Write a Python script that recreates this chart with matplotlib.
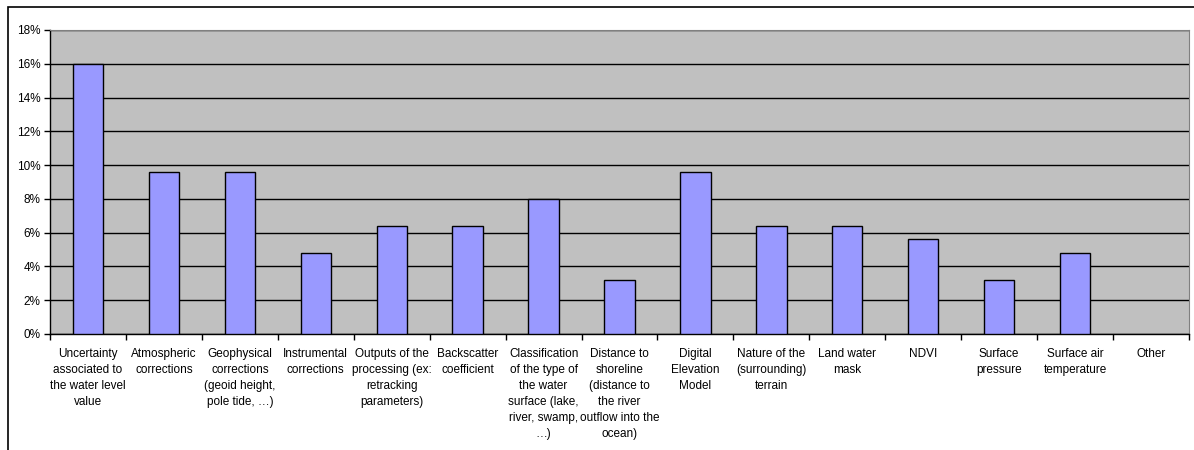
import matplotlib
matplotlib.use("Agg")
import matplotlib.pyplot as plt
from matplotlib.patches import Rectangle
import numpy as np

plt.rcParams['font.family'] = ['Liberation Sans', 'DejaVu Sans']

categories = [
    "Uncertainty\nassociated to\nthe water level\nvalue",
    "Atmospheric\ncorrections",
    "Geophysical\ncorrections\n(geoid height,\npole tide, \u2026)",
    "Instrumental\ncorrections",
    "Outputs of the\nprocessing (ex:\nretracking\nparameters)",
    "Backscatter\ncoefficient",
    "Classification\nof the type of\nthe water\nsurface (lake,\nriver, swamp,\n\u2026)",
    "Distance to\nshoreline\n(distance to\nthe river\noutflow into the\nocean)",
    "Digital\nElevation\nModel",
    "Nature of the\n(surrounding)\nterrain",
    "Land water\nmask",
    "NDVI",
    "Surface\npressure",
    "Surface air\ntemperature",
    "Other",
]
values = [16.0, 9.6, 9.6, 4.8, 6.4, 6.4, 8.0, 3.2, 9.6, 6.4, 6.4, 5.6, 3.2, 4.8, 0.0]
yticks = [0, 2, 4, 6, 8, 10, 12, 14, 16, 18]

W, H = 1194, 450
fig = plt.figure(figsize=(W / 100, H / 100), dpi=100)

# outer chart frame (left and top edges visible)
fig.patches.append(Rectangle((8 / W, -0.1), 1.2, 1 - 7 / H + 0.1, transform=fig.transFigure,
                             fill=False, edgecolor='black', linewidth=1.2))

ax = fig.add_axes([50 / W, 1 - 334 / H, (1189 - 50) / W, (334 - 30) / H])
ax.set_facecolor('#C0C0C0')

x = np.arange(len(categories))
edge_w = [1.0 if v > 0 else 0 for v in values]
ax.bar(x, values, width=0.4, color='#9999FF', edgecolor='black', linewidth=edge_w, zorder=3)

ax.set_xlim(-0.5, len(categories) - 0.5)
ax.set_ylim(0, 18)
ax.set_yticks(yticks)
ax.set_yticklabels([f"{v}%" for v in yticks], fontsize=8.5)
ax.yaxis.grid(True, color='black', linewidth=1.0, zorder=1)
ax.set_axisbelow(True)

ax.set_xticks(x)
ax.set_xticklabels(categories, fontsize=8.5, linespacing=1.45, va='top')
ax.tick_params(axis='x', which='major', length=0, pad=10)
ax.set_xticks(np.arange(len(categories) + 1) - 0.5, minor=True)
ax.tick_params(axis='x', which='minor', length=4, width=1, direction='out')
ax.tick_params(axis='y', length=4, width=1, direction='out', pad=3)

for side in ['top', 'right']:
    ax.spines[side].set_color('#808080')
for side in ['left', 'bottom']:
    ax.spines[side].set_color('black')
    ax.spines[side].set_linewidth(1.0)

fig.savefig("out.png", dpi=100)
